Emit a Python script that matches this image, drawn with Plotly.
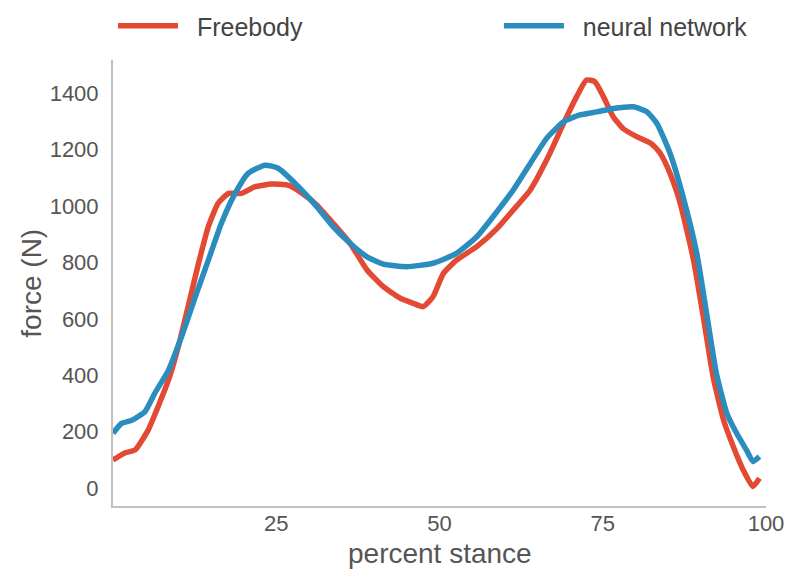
import plotly.graph_objects as go

# Freebody series (percent stance, force N)
freebody_x = [0, 1.8, 3.4, 5.4, 6.9, 8.5, 10, 11.5, 13.1, 14.6, 16.1, 17.7, 19.7, 21.7, 24.3,
              26.8, 28.6, 31.2, 33.7, 36.3, 38.9, 41.4, 44, 46, 47.5, 49, 50.6, 52.6, 55.7,
              58.8, 61.3, 63.9, 66.4, 69, 71, 72.5, 73.8, 75.1, 76.6, 78.1, 80.2, 82.5, 83.8,
              85.3, 86.8, 88.9, 90.4, 91.9, 93.5, 95, 96.5, 98, 99]
freebody_y = [99, 124, 135, 206, 288, 383, 501, 643, 797, 927, 1010, 1045, 1045, 1068, 1078,
              1074, 1051, 1004, 939, 868, 773, 714, 673, 655, 643, 678, 761, 808, 856,
              920, 986, 1057, 1163, 1293, 1388, 1447, 1441, 1388, 1317, 1275, 1246, 1220, 1187,
              1116, 1015, 809, 607, 395, 241, 146, 64, 5, 34]

# Neural network series
nn_x = [0, 1.3, 2.9, 4.9, 6.4, 8.5, 10.5, 12.6, 14.6, 16.6, 18.7, 20.7, 23.3, 25.3, 27.9,
        31.2, 33.7, 36.3, 38.9, 41.4, 45, 49, 52.6, 55.7, 58.8, 61.3, 63.9, 66.4, 69, 71.5,
        74.1, 76.6, 79.7, 81.7, 83.3, 85.3, 87.3, 89.4, 90.9, 92.4, 94, 95.5, 97, 98, 99]
nn_y = [194, 229, 240, 271, 336, 418, 537, 678, 808, 939, 1045, 1116, 1145, 1134, 1080,
        998, 927, 868, 820, 794, 785, 797, 832, 891, 980, 1057, 1151, 1240, 1299, 1323,
        1334, 1346, 1352, 1335, 1293, 1187, 1033, 832, 620, 407, 265, 194, 135, 94, 111]

x_ticks = [25, 50, 75, 100]
y_ticks = [0, 200, 400, 600, 800, 1000, 1200, 1400]
x_title = "percent stance"
y_title = "force (N)"

RED = "#e34a33"
BLUE = "#2b8cbe"
FONT = "Liberation Sans, Arial, sans-serif"
GREY = "#555555"
NB = "\u00a0\u00a0"

fig = go.Figure()
fig.add_trace(go.Scatter(x=freebody_x, y=freebody_y, mode="lines", name=NB + "Freebody",
                         legend="legend",
                         line=dict(color=RED, width=5.5, shape="spline", smoothing=0.5)))
fig.add_trace(go.Scatter(x=nn_x, y=nn_y, mode="lines", name=NB + "neural network",
                         legend="legend2",
                         line=dict(color=BLUE, width=5.5, shape="spline", smoothing=0.5)))

leg_common = dict(xanchor="left", yanchor="middle", y=1.076,
                  font=dict(size=25, color="#444444"), itemwidth=60,
                  bgcolor="rgba(0,0,0,0)", borderwidth=0)

fig.update_layout(
    width=800, height=583,
    margin=dict(l=113, r=34, t=60, b=77, autoexpand=False),
    paper_bgcolor="white", plot_bgcolor="white",
    font=dict(family=FONT, color=GREY),
    showlegend=True,
    legend=dict(x=0.0, **leg_common),
    legend2=dict(x=0.591, **leg_common),
    xaxis=dict(range=[0, 100], tickvals=x_ticks, showgrid=False, zeroline=False,
               showline=True, linecolor="#c0c0c0", linewidth=2, ticks="",
               tickfont=dict(size=22, color=GREY), ticklabelstandoff=-3),
    yaxis=dict(range=[-64, 1518], tickvals=y_ticks, showgrid=False, zeroline=False,
               showline=True, linecolor="#c0c0c0", linewidth=2, ticks="",
               tickfont=dict(size=22, color=GREY), ticklabelstandoff=8),
    annotations=[
        dict(text=x_title, xref="paper", yref="paper", x=0.5, y=-0.106,
             xanchor="center", yanchor="middle", showarrow=False,
             font=dict(size=28, color=GREY)),
        dict(text=y_title, xref="paper", yref="paper", x=-0.126, y=0.5,
             xanchor="center", yanchor="middle", textangle=-90, showarrow=False,
             font=dict(size=28, color=GREY)),
    ],
)

fig.write_html("out.html", config={"displayModeBar": False},
               post_script="document.body.style.margin='0';")
